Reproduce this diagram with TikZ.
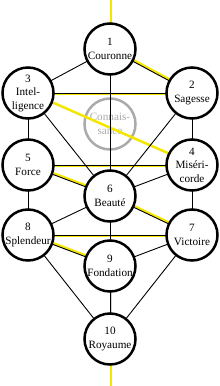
\documentclass[tikz,border=0pt]{standalone}
\usepackage{fontspec}
\setmainfont{Liberation Serif}
\usetikzlibrary{calc,backgrounds}
\definecolor{flash}{RGB}{245,230,0}
\definecolor{daathgray}{RGB}{170,170,170}
\begin{document}
\begin{tikzpicture}[x=1bp,y=-1bp,
  sefira/.style={circle,draw=black,line width=2.5bp,fill=white,minimum size=51bp,inner sep=0pt,align=center,font=\fontsize{11.2bp}{13.5bp}\selectfont},
  daath/.style={sefira,draw=daathgray,text=daathgray,fill=none},
  conn/.style={black,line width=0.9bp},
  bolt/.style={flash,line width=2.5bp}]
\path[use as bounding box] (0,0) rectangle (220,386);
\node[sefira] (n1) at (110,49) {1\\Couronne};
\node[sefira] (n2) at (192,93) {2\\Sagesse};
\node[sefira] (n3) at (28,93) {3\\Intel-\\ligence};
\node[sefira] (n4) at (192,165) {4\\Miséri-\\corde};
\node[sefira] (n5) at (28,165) {5\\Force};
\node[sefira] (n6) at (110,196) {6\\Beauté};
\node[sefira] (n7) at (192,235) {7\\Victoire};
\node[sefira] (n8) at (28,235) {8\\Splendeur};
\node[sefira] (n9) at (110,266) {9\\Fondation};
\node[sefira] (n10) at (110,339) {10\\Royaume};
\coordinate (top) at (110,0);
\coordinate (bottom) at (110,386);
\begin{scope}[on background layer]
  \node[daath] (d) at (110,124) {Connais-\\sance};
  \foreach \a/\b in {1/2,2/3,3/4,4/5,5/6,6/7,7/8,8/9,9/10}
    \draw[bolt] ($(n\a.center)!1.2bp!90:(n\b.center)$) -- ($(n\b.center)!1.2bp!-90:(n\a.center)$);
  \draw[bolt] ($(top)!1.2bp!90:(n1.center)$) -- ($(n1.center)!1.2bp!-90:(top)$);
  \draw[bolt] ($(n10.center)!1.2bp!90:(bottom)$) -- ($(bottom)!1.2bp!-90:(n10.center)$);
  \foreach \a/\b in {1/2,1/3,1/6,2/3,2/4,2/6,3/5,3/6,4/5,4/6,4/7,5/6,5/8,6/7,6/8,6/9,7/8,7/9,7/10,8/9,8/10,9/10}
    \draw[conn] (n\a.center) -- (n\b.center);
\end{scope}
\end{tikzpicture}
\end{document}
